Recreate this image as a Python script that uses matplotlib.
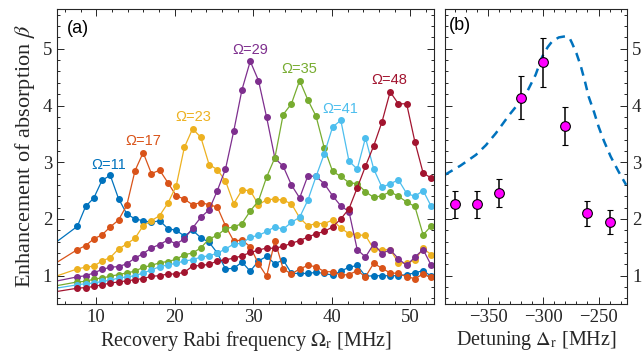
"""Absorption enhancement vs recovery Rabi frequency (a) and vs detuning (b)."""
import matplotlib
matplotlib.use("Agg")
import matplotlib.pyplot as plt
from matplotlib.ticker import MultipleLocator

plt.rcParams["font.family"] = ["Liberation Serif", "DejaVu Serif"]
plt.rcParams["mathtext.fontset"] = "stix"

# ---- panel (a) data -------------------------------------------------------
# first entry of every series sits just left of the axis (only its line shows)
rabi_mhz = [4.0, 7.59, 8.64, 9.69, 10.73, 11.78, 12.83, 13.88, 14.93, 15.97, 17.02,
            18.07, 19.12, 20.17, 21.21, 22.26, 23.31, 24.36, 25.41, 26.45, 27.50,
            28.55, 29.60, 30.65, 31.69, 32.74, 33.79, 34.84, 35.89, 36.93, 37.98,
            39.03, 40.08, 41.13, 42.17, 43.22, 44.27, 45.32, 46.37, 47.41, 48.46,
            49.51, 50.56, 51.61, 52.65]

beta_11 = [1.50, 1.87, 2.22, 2.37, 2.68, 2.77, 2.36, 2.09, 2.00, 1.97, 1.94, 1.97,
           1.83, 1.80, 1.70, 1.80, 1.67, 1.59, 1.40, 1.12, 1.13, 1.24, 1.08, 1.26,
           1.34, 1.21, 1.28, 1.04, 1.04, 1.04, 1.06, 1.04, 1.01, 1.08, 1.15, 1.18,
           0.99, 1.00, 1.00, 1.00, 1.00, 1.02, 1.05, 1.09, 0.99]
beta_17 = [1.15, 1.46, 1.53, 1.65, 1.72, 1.86, 1.98, 2.24, 2.85, 3.17, 2.80, 2.86,
           2.64, 2.41, 2.35, 2.25, 2.29, 2.25, 2.21, 1.88, 1.61, 1.63, 1.51, 1.21,
           0.99, 1.62, 1.12, 1.03, 1.12, 1.18, 1.16, 1.07, 1.07, 1.01, 1.02, 1.09,
           0.98, 1.22, 1.13, 1.05, 1.04, 0.98, 0.95, 1.03, 0.97]
beta_23 = [0.95, 1.12, 1.15, 1.17, 1.26, 1.32, 1.47, 1.56, 1.66, 1.88, 1.97, 2.06,
           2.28, 2.58, 3.26, 3.59, 3.44, 2.96, 2.87, 2.67, 2.27, 2.51, 2.50, 2.25,
           2.34, 2.35, 2.33, 2.27, 2.02, 1.88, 1.92, 1.92, 1.98, 1.84, 1.74, 1.72,
           1.71, 1.47, 1.46, 1.46, 1.23, 1.22, 1.28, 1.48, 1.37]
beta_29 = [0.88, 0.98, 1.00, 1.05, 1.11, 1.15, 1.16, 1.21, 1.31, 1.39, 1.49, 1.55,
           1.63, 1.56, 1.65, 1.84, 2.03, 2.16, 2.50, 2.88, 3.55, 4.28, 4.78, 4.44,
           3.79, 3.07, 2.93, 2.60, 2.37, 2.76, 2.75, 2.62, 2.41, 2.23, 2.13, 1.46,
           1.33, 1.56, 1.39, 1.46, 1.30, 1.18, 1.33, 1.46, 1.18]
beta_35 = [0.80, 0.89, 0.90, 0.94, 0.96, 0.99, 1.02, 1.05, 1.08, 1.15, 1.18, 1.23,
           1.25, 1.29, 1.37, 1.40, 1.49, 1.65, 1.71, 1.83, 1.86, 1.92, 2.14, 2.32,
           2.74, 3.08, 3.84, 4.03, 4.44, 4.10, 3.81, 3.25, 2.84, 2.75, 2.64, 2.62,
           2.48, 2.38, 2.41, 2.48, 2.40, 2.30, 2.22, 1.72, 1.88]
beta_41 = [0.76, 0.84, 0.86, 0.87, 0.90, 0.92, 0.96, 0.98, 1.00, 1.05, 1.10, 1.16,
           1.19, 1.22, 1.26, 1.28, 1.33, 1.35, 1.40, 1.47, 1.56, 1.57, 1.68, 1.71,
           1.78, 1.86, 1.82, 1.94, 2.03, 2.33, 2.75, 3.15, 3.62, 3.74, 3.02, 2.88,
           3.43, 2.88, 2.56, 2.62, 2.69, 2.45, 2.40, 2.50, 2.22]
beta_48 = [0.70, 0.78, 0.79, 0.81, 0.84, 0.87, 0.89, 0.91, 0.93, 0.95, 0.99, 1.00,
           1.03, 1.03, 1.06, 1.17, 1.18, 1.20, 1.26, 1.28, 1.31, 1.35, 1.41, 1.45,
           1.49, 1.48, 1.52, 1.57, 1.62, 1.68, 1.74, 1.78, 1.86, 2.00, 2.18, 2.55,
           2.93, 3.29, 3.71, 4.24, 4.03, 4.03, 3.36, 2.81, 2.72]

series_labels = ["Ω=11", "Ω=17", "Ω=23", "Ω=29", "Ω=35", "Ω=41", "Ω=48"]
label_pos = [(11.6, 2.96), (16.0, 3.38), (22.3, 3.79), (29.6, 4.98),
             (35.9, 4.64), (41.05, 3.94), (47.3, 4.45)]

# ---- panel (b) data -------------------------------------------------------
detuning_mhz = [-380, -360, -340, -320, -300, -280, -260, -240]
beta_peak = [2.26, 2.26, 2.46, 4.14, 4.76, 3.64, 2.10, 1.95]
beta_err = [0.24, 0.24, 0.25, 0.38, 0.43, 0.33, 0.22, 0.21]

theory_x = [-389, -375, -361, -352, -343, -331, -316, -307, -301, -296, -292, -286,
            -280, -276, -274, -270, -266, -262, -259, -254, -250, -245, -239, -232,
            -225]
theory_y = [2.78, 2.94, 3.13, 3.30, 3.51, 3.83, 4.19, 4.54, 4.86, 5.03, 5.13, 5.20,
            5.22, 5.18, 5.10, 4.92, 4.69, 4.40, 4.16, 3.88, 3.63, 3.37, 3.10, 2.84,
            2.60]

COLORS = ["#0072BD", "#D95319", "#EDB120", "#7E2F8E", "#77AC30", "#4DBEEE", "#A2142F"]
SANS = ["Liberation Sans", "DejaVu Sans"]


def style_axes(ax):
    ax.tick_params(which="both", direction="in", top=True, right=True,
                   labelsize=13.5, width=0.7, colors="#262626")
    ax.tick_params(which="major", length=5)
    ax.tick_params(which="minor", length=2.5)
    for sp in ax.spines.values():
        sp.set_linewidth(0.8)
        sp.set_color("#262626")


fig = plt.figure(figsize=(6.44, 3.62), dpi=100)
ax1 = fig.add_axes([0.0885, 0.160, 0.5855, 0.815])
ax2 = fig.add_axes([0.691, 0.160, 0.283, 0.815])

series = [beta_11, beta_17, beta_23, beta_29, beta_35, beta_41, beta_48]
for vals, col, lab, (lx, ly) in zip(series, COLORS, series_labels, label_pos):
    ax1.plot(rabi_mhz, vals, "-o", color=col, linewidth=0.9, markersize=4)
    ax1.text(lx, ly, lab, color=col, fontsize=10.5, family=SANS,
             ha="center", va="center")

ax1.set_xlim(5, 53)
ax1.set_ylim(0.5, 5.7)
ax1.xaxis.set_major_locator(MultipleLocator(10))
ax1.xaxis.set_minor_locator(MultipleLocator(2))
ax1.yaxis.set_major_locator(MultipleLocator(1))
ax1.yaxis.set_minor_locator(MultipleLocator(0.2))
style_axes(ax1)
ax1.set_xlabel(r"Recovery Rabi frequency $\Omega_\mathrm{r}$ [MHz]", fontsize=14.5,
               color="#262626", labelpad=2)
ax1.set_ylabel(r"Enhancement of absorption $\beta$", fontsize=16, color="#262626",
               labelpad=4)
ax1.text(0.026, 0.935, "(a)", transform=ax1.transAxes, fontsize=13, family=SANS,
         ha="left", va="center")

ax2.plot(theory_x, theory_y, "--", color="#0072BD", linewidth=1.8, dashes=(3.5, 2.5))
ax2.errorbar(detuning_mhz, beta_peak, yerr=beta_err, fmt="o", color="black",
             markerfacecolor="#FF00FF", markeredgecolor="black", markersize=7,
             markeredgewidth=0.8, elinewidth=1.1, capsize=2.5, capthick=1.1)
ax2.set_xlim(-389, -224)
ax2.set_ylim(0.5, 5.7)
ax2.xaxis.set_major_locator(MultipleLocator(50))
ax2.xaxis.set_minor_locator(MultipleLocator(10))
ax2.yaxis.set_major_locator(MultipleLocator(1))
ax2.yaxis.set_minor_locator(MultipleLocator(0.2))
style_axes(ax2)
ax2.tick_params(labelleft=False, labelright=True)
ax2.set_xlabel(r"Detuning $\Delta_\mathrm{r}$ [MHz]", fontsize=14.5, color="#262626",
               labelpad=2)
ax2.text(0.02, 0.945, "(b)", transform=ax2.transAxes, fontsize=13, family=SANS,
         ha="left", va="center")

plt.savefig("out.png", dpi=100, facecolor="white")
plt.close()
